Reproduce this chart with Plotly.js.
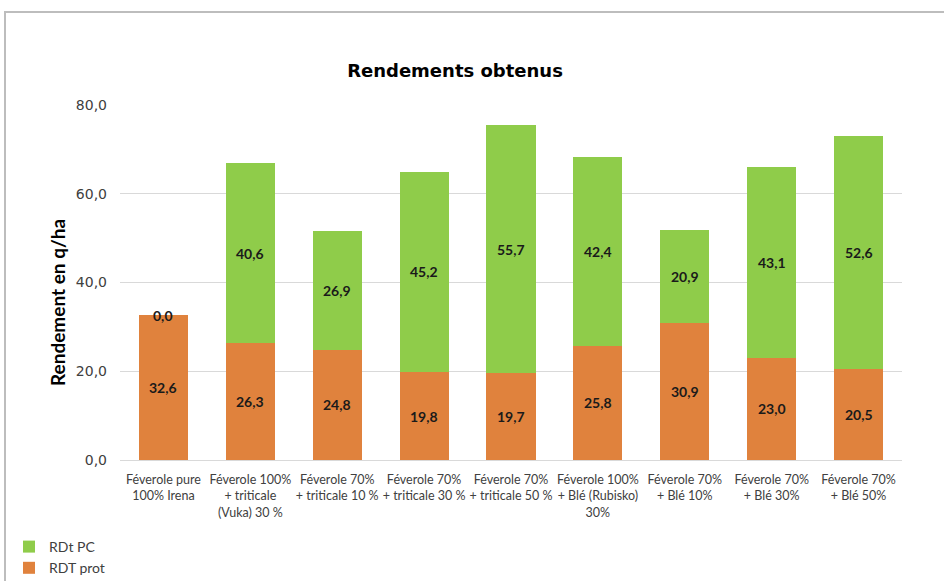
<!DOCTYPE html>
<html>
<head>
<meta charset="utf-8">
<script src="https://cdn.plot.ly/plotly-3.0.1.min.js"></script>
<style>
  html, body { margin: 0; padding: 0; background: #fff; }
  #chart { width: 944px; height: 581px; }
</style>
</head>
<body>
<div id="chart"></div>
<script>
// Yield per crop association (q/ha)
const categories = [
  "Féverole pure<br>100% Irena",
  "Féverole 100%<br>+ triticale<br>(Vuka) 30 %",
  "Féverole 70%<br>+ triticale 10 %",
  "Féverole 70%<br>+ triticale 30 %",
  "Féverole 70%<br>+ triticale 50 %",
  "Féverole 100%<br>+ Blé (Rubisko)<br>30%",
  "Féverole 70%<br>+ Blé 10%",
  "Féverole 70%<br>+ Blé 30%",
  "Féverole 70%<br>+ Blé 50%"
];
const rdtProt = [32.6, 26.3, 24.8, 19.8, 19.7, 25.8, 30.9, 23.0, 20.5];
const rdtPC   = [0.0, 40.6, 26.9, 45.2, 55.7, 42.4, 20.9, 43.1, 52.6];
const seriesNames = ["RDT prot", "RDt PC"];

const ORANGE = "#E0823D";
const GREEN = "#8FCC4A";

const fmt = v => v.toFixed(1).replace(".", ",");

const traceProt = {
  type: "bar", name: seriesNames[0], x: categories, y: rdtProt,
  marker: { color: ORANGE }, hoverinfo: "skip"
};
const tracePC = {
  type: "bar", name: seriesNames[1], x: categories, y: rdtPC,
  marker: { color: GREEN }, hoverinfo: "skip"
};

// pixel -> paper helpers for placing the frame, axis title and legend
const L = 120, R = 42, T = 105, B = 121, W = 944, H = 581;
const pw = W - L - R, ph = H - T - B;
const px = p => (p - L) / pw;
const py = q => (H - B - q) / ph;

// Value labels centred in each segment
const labelFont = { family: "Lato, sans-serif", size: 14, color: "#1a1a1a" };
const annotations = [];
categories.forEach((c, i) => {
  annotations.push({ x: c, y: rdtProt[i] / 2, xref: "x", yref: "y", text: "<b>" + fmt(rdtProt[i]) + "</b>",
    showarrow: false, font: labelFont });
  annotations.push({ x: c, y: rdtProt[i] + rdtPC[i] / 2, xref: "x", yref: "y", text: "<b>" + fmt(rdtPC[i]) + "</b>",
    showarrow: false, font: labelFont });
});

// Y axis title
annotations.push({
  text: "<b>Rendement en q/ha</b>", textangle: -90, showarrow: false,
  xref: "paper", yref: "paper", x: px(57), y: py(303), xanchor: "center", yanchor: "middle",
  font: { family: "Lato, sans-serif", size: 19, color: "#000" }
});

const layout = {
  width: W, height: H,
  margin: { l: L, r: R, t: T, b: B, pad: 0, autoexpand: false },
  paper_bgcolor: "#fff", plot_bgcolor: "#fff",
  separators: ", ",
  barmode: "stack",
  bargap: 0.435,
  showlegend: true,
  title: {
    text: "<b>Rendements obtenus</b>",
    font: { family: "DejaVu Sans, Verdana, sans-serif", size: 18, color: "#000" },
    xref: "paper", yref: "container", x: px(455), y: 1 - 71 / H, xanchor: "center", yanchor: "middle"
  },
  xaxis: {
    type: "category", automargin: false,
    showgrid: false, showline: true, linecolor: "#D9D9D9", linewidth: 1,
    ticks: "", ticklabelstandoff: 8, tickangle: 0,
    tickfont: { family: "Lato, sans-serif", size: 12.5, color: "#404040" }
  },
  yaxis: {
    range: [0, 80], dtick: 20, tickformat: ".1f", automargin: false,
    showgrid: true, gridcolor: "#D9D9D9", gridwidth: 1,
    zeroline: false, showline: false, ticks: "", ticklabelstandoff: 12,
    tickfont: { family: "DejaVu Sans, Verdana, sans-serif", size: 14, color: "#404040" }
  },
  legend: {
    orientation: "v", traceorder: "reversed",
    x: px(9), y: py(531), xanchor: "left", yanchor: "top",
    font: { family: "Lato, sans-serif", size: 14, color: "#404040" },
    bgcolor: "rgba(0,0,0,0)"
  },
  annotations: annotations,
  shapes: [{
    type: "rect", xref: "paper", yref: "paper",
    x0: px(5), x1: px(960), y0: py(600), y1: py(12),
    line: { color: "#BDBDBD", width: 2 }, fillcolor: "rgba(0,0,0,0)", layer: "below"
  }]
};

Plotly.newPlot("chart", [traceProt, tracePC], layout, { staticPlot: true, displayModeBar: false });
</script>
</body>
</html>
